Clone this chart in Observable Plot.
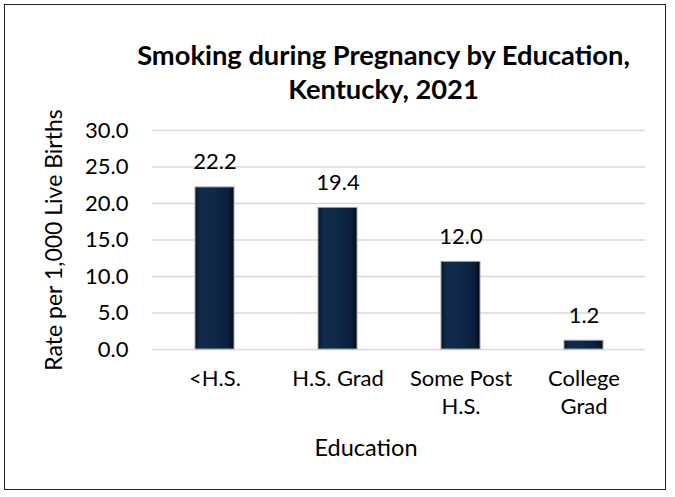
<!DOCTYPE html>
<html>
<head>
<meta charset="utf-8">
<script src="https://cdn.jsdelivr.net/npm/d3@7"></script>
<script src="https://cdn.jsdelivr.net/npm/@observablehq/plot@0.6"></script>
<style>
  html, body { margin: 0; padding: 0; background: #fff; }
  body { width: 675px; height: 497px; position: relative; overflow: hidden; font-family: Lato, "Open Sans", sans-serif; }
  #frame { position: absolute; left: 4px; top: 4px; width: 662px; height: 486px; border: 1.5px solid #222; box-sizing: border-box; }
  #title { position: absolute; left: 0; width: 675px; top: 38px; padding-left: 92px; box-sizing: border-box; text-align: center; font-weight: bold; font-size: 27.3px; line-height: 34px; color: #000; z-index: 2; }
  #chart { position: absolute; left: 0; top: 0; }
</style>
</head>
<body>
<div id="frame"></div>
<div id="chart"></div>
<div id="title">Smoking during Pregnancy by Education,<br>Kentucky, 2021</div>
<script>
const categories = ["<H.S.", "H.S. Grad", "Some Post H.S.", "College Grad"];
const categoryLabels = ["<H.S.", "H.S. Grad", "Some Post\nH.S.", "College\nGrad"];
const rates = [22.2, 19.4, 12.0, 1.2];
const yTicks = [0, 5, 10, 15, 20, 25, 30];
const yTitle = "Rate per 1,000 Live Births";
const xTitle = "Education";

const data = categories.map((c, i) => ({category: c, rate: rates[i]}));
const labelOf = new Map(categories.map((c, i) => [c, categoryLabels[i]]));

const plot = Plot.plot({
  width: 675,
  height: 485,
  marginLeft: 152,
  marginRight: 30,
  marginTop: 130,
  marginBottom: 136,
  style: {fontFamily: "Lato, 'Open Sans', sans-serif", fontSize: "22px", color: "#000", background: "transparent"},
  x: {domain: categories, paddingInner: 0.684, paddingOuter: 0.342, label: null},
  y: {domain: [0, 30], label: null},
  marks: [
    Plot.gridY(yTicks, {stroke: "#d9d9d9", strokeOpacity: 1, strokeWidth: 1.3}),
    Plot.axisY(yTicks, {tickSize: 0, tickPadding: 24, tickFormat: d => d.toFixed(1), fontSize: 22, label: null}),
    Plot.axisX({tickSize: 0, tickPadding: 16, tickFormat: d => labelOf.get(d), fontSize: 22, lineHeight: 1.3, label: null}),
    Plot.barY(data, {x: "category", y: "rate", fill: "url(#barGrad)", stroke: "#9aa4b0", strokeWidth: 1}),
    Plot.text(data, {x: "category", y: "rate", text: d => d.rate.toFixed(1), dy: -25, fontSize: 22, fill: "#000"}),
    Plot.text([yTitle], {frameAnchor: "left", textAnchor: "middle", rotate: -90, dx: -98, fontSize: 23, fill: "#000"}),
    Plot.text([xTitle], {frameAnchor: "bottom", dx: -33, dy: 106, fontSize: 23.5, fill: "#000"})
  ]
});

const defs = d3.select(plot).insert("defs", ":first-child");
const g = defs.append("linearGradient").attr("id", "barGrad").attr("x1", "0%").attr("x2", "100%").attr("y1", "0%").attr("y2", "0%");
[["0%", "#07162a"], ["14%", "#112b4c"], ["50%", "#0e2848"], ["86%", "#0a1e39"], ["100%", "#020912"]]
  .forEach(([o, c]) => g.append("stop").attr("offset", o).attr("stop-color", c));

document.getElementById("chart").appendChild(plot);
</script>
</body>
</html>
